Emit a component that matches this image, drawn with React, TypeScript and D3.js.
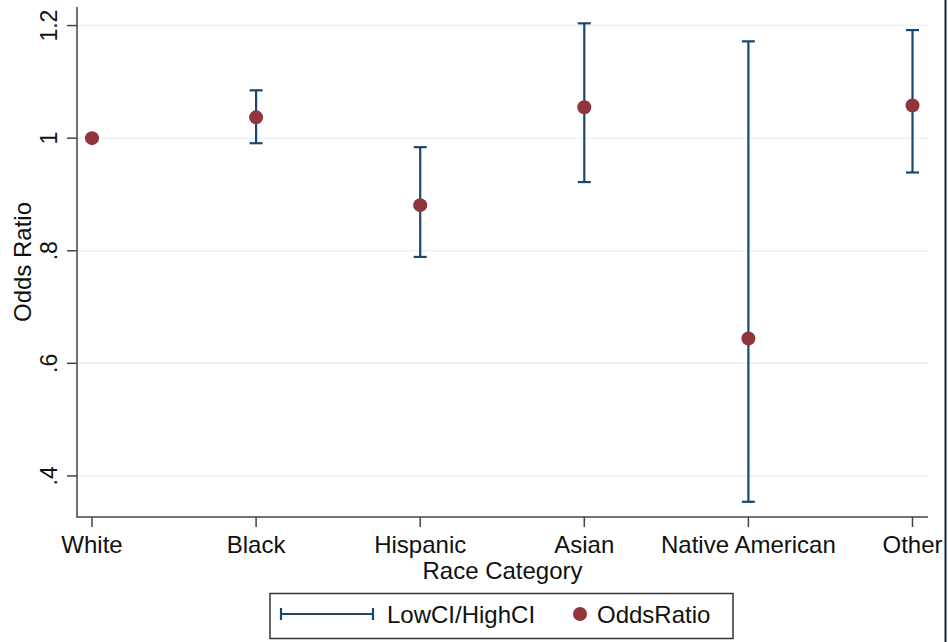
import React from 'react';
import * as d3 from 'd3';

// Race categories on the x axis
const categories = ['White', 'Black', 'Hispanic', 'Asian', 'Native American', 'Other'];
// Odds ratio point estimates
const oddsRatio = [1.0, 1.037, 0.881, 1.055, 0.644, 1.058];
// Confidence interval bounds (White is the reference, no interval)
const lowCI = [null, 0.991, 0.789, 0.922, 0.354, 0.939];
const highCI = [null, 1.085, 0.984, 1.204, 1.172, 1.192];
// Y axis ticks and labels
const yTicks = [0.4, 0.6, 0.8, 1.0, 1.2];
const yTickLabels = ['.4', '.6', '.8', '1', '1.2'];

const W = 948;
const H = 642;
const FONT = '"Liberation Sans", Arial, sans-serif';
const NAVY = '#1a476f';
const MAROON = '#90353b';

function App() {
  const plotLeft = 77;
  const plotRight = 928;
  const plotTop = 7;
  const plotBottom = 517;

  const x = d3.scalePoint<string>().domain(categories).range([92, 912.5]);
  const y = d3.scaleLinear().domain([0.327, 1.233]).range([plotBottom, plotTop]);

  const capHalf = 6.5;

  return (
    <svg
      width={W}
      height={H}
      style={{ position: 'absolute', left: 0, top: 0, background: '#fff' }}
      fontFamily={FONT}
    >
      <rect x={0} y={0} width={W} height={H} fill="#fff" />

      {/* grid lines */}
      {yTicks.map((t) => (
        <line
          key={'g' + t}
          x1={plotLeft}
          x2={plotRight}
          y1={y(t)}
          y2={y(t)}
          stroke="#eaf2f3"
          strokeWidth={1.5}
        />
      ))}

      {/* y axis */}
      <line x1={plotLeft} x2={plotLeft} y1={plotTop} y2={plotBottom + 0.75} stroke="#444" strokeWidth={1.5} />
      {yTicks.map((t, i) => (
        <g key={'yt' + t}>
          <line x1={plotLeft - 10} x2={plotLeft} y1={y(t)} y2={y(t)} stroke="#444" strokeWidth={1.5} />
          <text
            transform={`translate(57,${y(t)}) rotate(-90)`}
            textAnchor="middle"
            fontSize={23}
            fill="#111"
          >
            {yTickLabels[i]}
          </text>
        </g>
      ))}
      <text
        transform={`translate(31,${(plotTop + plotBottom) / 2}) rotate(-90)`}
        textAnchor="middle"
        fontSize={24}
        fill="#111"
      >
        Odds Ratio
      </text>

      {/* x axis */}
      <line x1={plotLeft} x2={plotRight} y1={plotBottom} y2={plotBottom} stroke="#444" strokeWidth={1.5} />
      {categories.map((c) => (
        <g key={'xt' + c}>
          <line x1={x(c)} x2={x(c)} y1={plotBottom} y2={plotBottom + 10} stroke="#444" strokeWidth={1.5} />
          <text x={x(c)} y={553} textAnchor="middle" fontSize={24} fill="#111">
            {c}
          </text>
        </g>
      ))}
      <text x={(plotLeft + plotRight) / 2} y={579} textAnchor="middle" fontSize={24} fill="#111">
        Race Category
      </text>

      {/* error bars */}
      {categories.map((c, i) => {
        const lo = lowCI[i];
        const hi = highCI[i];
        if (lo == null || hi == null) return null;
        const cx = x(c) as number;
        return (
          <g key={'eb' + c} stroke={NAVY} strokeWidth={2.2}>
            <line x1={cx} x2={cx} y1={y(hi)} y2={y(lo)} />
            <line x1={cx - capHalf} x2={cx + capHalf} y1={y(hi)} y2={y(hi)} />
            <line x1={cx - capHalf} x2={cx + capHalf} y1={y(lo)} y2={y(lo)} />
          </g>
        );
      })}

      {/* point estimates */}
      {categories.map((c, i) => (
        <circle key={'pt' + c} cx={x(c)} cy={y(oddsRatio[i])} r={7} fill={MAROON} />
      ))}

      {/* legend */}
      <rect x={270} y={593.5} width={463} height={45} fill="#fff" stroke="#333" strokeWidth={1.5} />
      <g stroke={NAVY} strokeWidth={2.2}>
        <line x1={281} x2={373} y1={614} y2={614} />
        <line x1={281} x2={281} y1={608} y2={620} />
        <line x1={373} x2={373} y1={608} y2={620} />
      </g>
      <text x={387} y={623} fontSize={24} fill="#111">
        LowCI/HighCI
      </text>
      <circle cx={580} cy={614} r={7} fill={MAROON} />
      <text x={597} y={623} fontSize={24} fill="#111">
        OddsRatio
      </text>

      {/* right frame edge */}
      <line x1={945.5} x2={945.5} y1={0} y2={H} stroke="#13233f" strokeWidth={2} />
    </svg>
  );
}

export default App;
